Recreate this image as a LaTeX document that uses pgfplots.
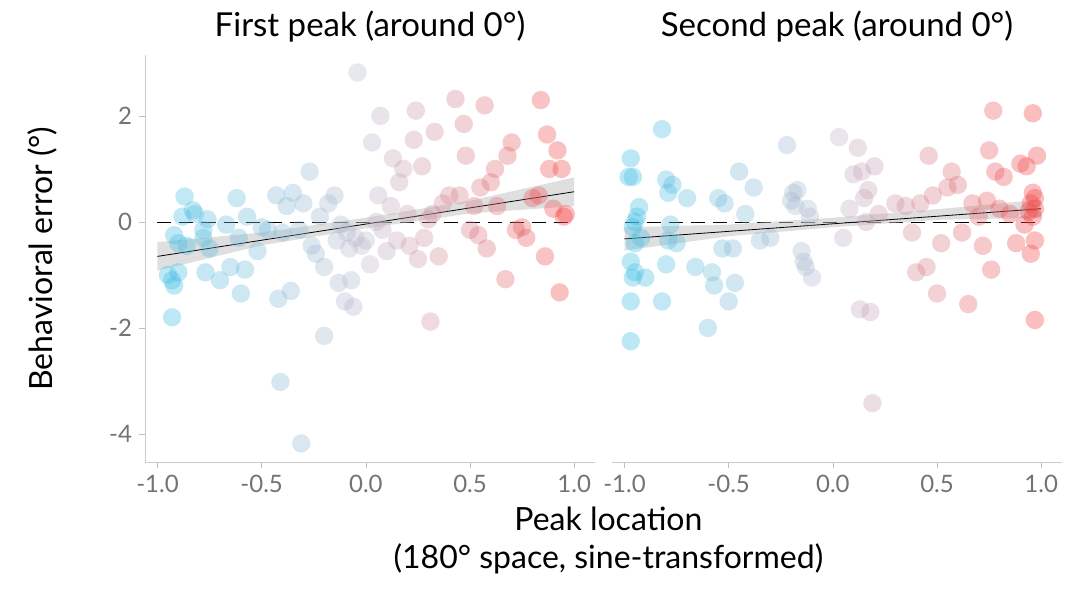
\documentclass[border=0pt]{standalone}
\usepackage{pgfplots}
\pgfplotsset{compat=1.18}
\usepackage{fontspec}
\setmainfont{Lato}
\begin{document}
\begin{tikzpicture}
\pgfplotsset{
 myax/.style={scale only axis, width=225pt, height=203.5pt,
  xmin=-1.06, xmax=1.1, ymin=-4.53, ymax=3.15,
  xtick={-1,-0.5,0,0.5,1}, xticklabels={-1.0,-0.5,0.0,0.5,1.0},
  ytick={-4,-2,0,2},
  axis line style={gray!40}, tick style={gray!50},
  tick align=outside, major tick length=3pt,
  ticklabel style={font=\fontsize{12}{14}\selectfont, text=gray!90!black},
  /pgf/number format/assume math mode=true,
  title style={font=\fontsize{16.5}{19}\selectfont, yshift=-3pt},
  colormap={c}{rgb255=(60,190,230) rgb255=(190,185,205) rgb255=(245,65,65)},
  point meta min=-1, point meta max=1,
 },
 sc/.style={only marks, scatter, mark=*, mark size=4.6pt, scatter/use mapped color={draw opacity=0, fill=mapped color, fill opacity=0.35}, point meta=x},
}
\begin{axis}[myax, axis x line*=bottom, axis y line*=left,
  title={First peak (around 0°)},
  ylabel={Behavioral error (°)}, ylabel style={font=\fontsize{16}{18}\selectfont, at={(axis description cs:-0.229,0.5)}, anchor=center}]
\addplot[dashed, black, thin, dash pattern=on 7pt off 4pt] coordinates {(-1,0)(1,0)};
\addplot[sc] coordinates {
(-0.95,-1.0)(-0.93,-1.1)(-0.92,-1.2)(-0.93,-1.8)(-0.92,-0.25)(-0.9,-0.95)(-0.9,-0.4)(-0.88,0.1)(-0.87,0.48)(-0.86,-0.45)(-0.83,0.22)(-0.82,0.15)(-0.78,-0.3)(-0.78,-0.15)(-0.77,-0.95)(-0.76,0.05)(-0.75,-0.5)(-0.7,-1.1)(-0.67,-0.05)(-0.65,-0.85)(-0.62,0.45)(-0.61,-0.3)(-0.6,-1.35)(-0.58,-0.9)(-0.57,0.1)(-0.52,-0.55)(-0.5,-0.1)(-0.47,-0.15)(-0.43,0.5)(-0.42,-1.45)(-0.41,-3.02)(-0.4,-0.2)(-0.38,0.3)(-0.36,-1.3)(-0.35,0.55)(-0.32,-0.15)(-0.31,-4.18)(-0.3,0.35)(-0.27,0.95)(-0.26,-0.45)(-0.24,-0.6)(-0.22,0.1)(-0.2,-0.85)(-0.2,-2.15)(-0.18,0.35)(-0.15,0.5)(-0.14,-0.35)(-0.13,-1.15)(-0.12,-0.05)(-0.1,-1.5)(-0.09,-0.2)(-0.08,-0.5)(-0.07,-1.1)(-0.06,-1.6)(-0.05,-0.3)(-0.04,2.82)(-0.02,-0.45)(0.0,-0.35)(0.02,-0.8)(0.03,1.5)(0.05,0.0)(0.06,0.5)(0.07,2.0)(0.08,-0.15)(0.1,-0.55)(0.12,0.3)(0.13,1.2)(0.15,-0.35)(0.16,0.75)(0.18,1.0)(0.2,0.15)(0.21,-0.45)(0.23,1.55)(0.24,2.1)(0.25,-0.7)(0.27,1.05)(0.28,-0.3)(0.3,0.05)(0.31,-1.88)(0.32,0.15)(0.33,1.7)(0.35,-0.65)(0.37,0.35)(0.4,0.5)(0.43,2.32)(0.45,0.5)(0.47,1.85)(0.48,1.25)(0.5,-0.15)(0.52,0.3)(0.54,-0.25)(0.55,0.65)(0.57,2.2)(0.58,-0.5)(0.6,0.75)(0.62,1.0)(0.63,0.3)(0.67,-1.08)(0.68,1.25)(0.7,1.5)(0.72,-0.15)(0.75,-0.1)(0.77,-0.3)(0.8,0.45)(0.83,0.5)(0.84,2.3)(0.86,-0.65)(0.87,1.65)(0.88,1.0)(0.9,0.25)(0.92,1.35)(0.93,-1.33)(0.94,1.0)(0.95,0.1)(0.96,0.15)};
\addplot[fill=gray!50, fill opacity=0.5, draw=none] coordinates {(-1,-0.38)(-0.5,-0.2)(0,0.08)(0.5,0.4)(1,0.84)(1,0.3)(0.5,0.16)(0,-0.12)(-0.5,-0.44)(-1,-0.92)} --cycle;
\addplot[black, thin] coordinates {(-1,-0.65)(1,0.57)};
\end{axis}
\path (-72.5pt,-64pt) rectangle (472.5pt,231pt);
\begin{axis}[myax, xshift=233.5pt, axis x line*=bottom, axis y line*=left,
  y axis line style={draw=none}, yticklabels={}, ytick style={draw=none},
  title={Second peak (around 0°)},
  xlabel={Peak location\\(180° space, sine-transformed)},
  xlabel style={font=\fontsize{16}{19}\selectfont, align=center, at={(rel axis cs:-0.008,0)}, anchor=north, yshift=-19pt}]
\addplot[dashed, black, thin, dash pattern=on 7pt off 4pt] coordinates {(-1,0)(1,0)};
\addplot[sc] coordinates {
(-0.97,1.2)(-0.98,0.85)(-0.96,0.85)(-0.97,-2.25)(-0.97,-1.5)(-0.96,-1.05)(-0.97,-0.75)(-0.95,-0.4)(-0.96,-0.1)(-0.95,0.0)(-0.94,0.1)(-0.93,0.28)(-0.92,-0.3)(-0.9,-1.05)(-0.95,-0.95)(-0.82,1.75)(-0.8,0.8)(-0.79,0.55)(-0.79,-0.35)(-0.78,-0.05)(-0.77,0.7)(-0.8,-0.8)(-0.82,-1.5)(-0.75,-0.4)(-0.7,0.45)(-0.66,-0.85)(-0.6,-2.0)(-0.58,-0.95)(-0.57,-1.2)(-0.55,0.45)(-0.53,-0.5)(-0.52,0.35)(-0.5,-1.5)(-0.48,-0.5)(-0.47,-1.15)(-0.45,0.95)(-0.42,0.15)(-0.38,0.65)(-0.35,-0.35)(-0.3,-0.3)(-0.22,1.45)(-0.2,0.4)(-0.19,0.55)(-0.18,0.3)(-0.17,0.6)(-0.15,-0.55)(-0.14,-0.75)(-0.13,-0.85)(-0.12,0.25)(-0.11,0.1)(-0.1,-1.05)(0.03,1.6)(0.05,-0.3)(0.08,0.25)(0.1,0.9)(0.12,1.4)(0.13,-1.65)(0.14,0.95)(0.15,0.45)(0.16,0.0)(0.17,0.6)(0.18,-1.7)(0.19,-3.42)(0.2,1.05)(0.22,0.15)(0.3,0.35)(0.35,0.3)(0.38,-0.2)(0.4,-0.95)(0.42,0.35)(0.45,-0.85)(0.46,1.25)(0.48,0.5)(0.5,-1.35)(0.52,-0.4)(0.55,0.65)(0.57,0.95)(0.6,0.7)(0.62,-0.2)(0.65,-1.55)(0.67,0.35)(0.7,0.1)(0.72,-0.45)(0.74,0.4)(0.75,1.35)(0.76,-0.9)(0.77,2.1)(0.78,0.95)(0.8,0.25)(0.82,0.85)(0.85,0.15)(0.88,-0.4)(0.9,1.1)(0.92,-0.05)(0.93,1.05)(0.94,0.2)(0.95,0.35)(0.95,-0.6)(0.96,2.05)(0.96,0.1)(0.97,0.45)(0.97,-0.35)(0.97,-1.85)(0.98,1.25)(0.96,0.55)(0.97,0.25)};
\addplot[fill=gray!50, fill opacity=0.5, draw=none] coordinates {(-1,-0.1)(-0.5,-0.05)(0,0.08)(0.5,0.24)(1,0.42)(1,0.08)(0.5,0.04)(0,-0.1)(-0.5,-0.27)(-1,-0.54)} --cycle;
\addplot[black, thin] coordinates {(-1,-0.32)(1,0.25)};
\end{axis}
\end{tikzpicture}
\end{document}
